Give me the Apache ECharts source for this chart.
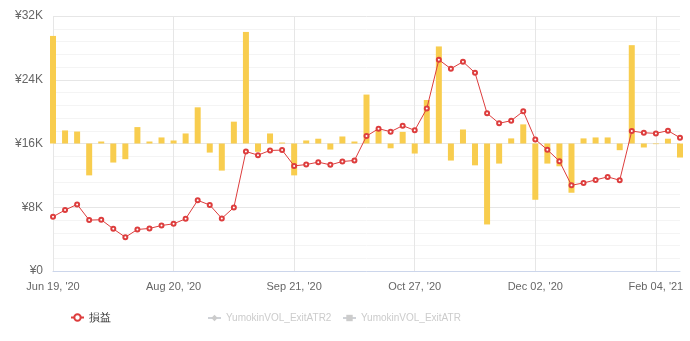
<!DOCTYPE html>
<html><head><meta charset="utf-8">
<script src="https://cdn.jsdelivr.net/npm/echarts@6/dist/echarts.min.js"></script>
<style>html,body{margin:0;padding:0;background:#fff}#c{width:690px;height:341px}</style>
</head><body><div id="c"></div>
<script>
// tick labels shown every 10th category
const tickLabels = ["Jun 19, '20", "Aug 20, '20", "Sep 21, '20", "Oct 27, '20", "Dec 02, '20", "Feb 04, '21"];
// cumulative profit (損益), yen
const profit = [6810, 7650, 8360, 6390, 6430, 5290, 4240, 5210, 5340, 5710,
  5920, 6550, 8870, 8280, 6600, 7980, 15000, 14540, 15130, 15170,
  13190, 13360, 13660, 13320, 13740, 13870, 16930, 17860, 17480, 18240,
  17650, 20380, 26510, 25380, 26260, 24870, 19790, 18530, 18870, 20040,
  16510, 15210, 13780, 10760, 11050, 11430, 11810, 11390, 17560, 17350,
  17270, 17610, 16720];
// per-period change (bars), yen
const change = [6750, 820, 750, -2000, 125, -1195, -985, 1030, 125, 380,
  190, 630, 2270, -570, -1700, 1370, 7000, -520, 630, 60,
  -2000, 190, 300, -380, 440, 125, 3070, 880, -300, 730,
  -630, 2730, 6090, -1070, 880, -1370, -5080, -1260, 320, 1200,
  -3530, -1260, -1430, -3090, 320, 380, 380, -420, 6170, -250,
  -40, 300, -880];
const categories = profit.map((_, i) => String(i));
const legendNames = ['損益', 'YumokinVOL_ExitATR2', 'YumokinVOL_ExitATR'];

const chart = echarts.init(document.getElementById('c'), null, {renderer: 'canvas'});
const narrow = "'Liberation Sans Narrow', 'Arial Narrow', 'Liberation Sans', Arial, sans-serif";
const legendBase = {
  top: 308, itemWidth: 13, itemHeight: 8, inactiveColor: '#cccccc',
  textStyle: {fontFamily: narrow, fontSize: 10, color: '#333'},
  selected: {'YumokinVOL_ExitATR2': false, 'YumokinVOL_ExitATR': false}
};
chart.setOption({
  animation: false,
  grid: {left: 53, right: 10, top: 16, bottom: 70},
  legend: [
    Object.assign({}, legendBase, {left: 65, top: 307, data: [legendNames[0]],
      textStyle: {fontFamily: narrow, fontSize: 11, color: '#333'}}),
    Object.assign({}, legendBase, {left: 202, data: [legendNames[1]]}),
    Object.assign({}, legendBase, {left: 337, data: [legendNames[2]]})
  ],
  xAxis: {
    type: 'category', data: categories, boundaryGap: false,
    axisLine: {lineStyle: {color: '#ccd6eb'}},
    axisTick: {show: false},
    axisLabel: {
      interval: 9, color: '#666', fontFamily: narrow, fontSize: 11, margin: 10,
      formatter: (v, i) => tickLabels[i / 10] || ''
    },
    splitLine: {show: true, interval: 9, lineStyle: {color: '#e6e6e6'}}
  },
  yAxis: [{
    type: 'value', min: 0, max: 32000, interval: 8000,
    axisLabel: {color: '#666', fontFamily: "'Liberation Sans', Arial, sans-serif", fontSize: 12, margin: 10,
      formatter: v => v === 0 ? '¥0' : '¥' + (v / 1000) + 'K'},
    axisLine: {show: false}, axisTick: {show: false},
    splitLine: {lineStyle: {color: '#e6e6e6'}},
    minorTick: {show: false, splitNumber: 5},
    minorSplitLine: {show: true, lineStyle: {color: '#f4f4f4'}}
  }, {
    type: 'value', min: -8000, max: 8000, show: false, splitLine: {show: false}
  }],
  series: [
    {
      name: 'Change', type: 'bar', yAxisIndex: 1, data: change, barWidth: 6,
      itemStyle: {color: '#f8cd4e'}, z: 1
    },
    {
      name: legendNames[0], type: 'line', data: profit, yAxisIndex: 0,
      symbol: 'emptyCircle', symbolSize: 4, showAllSymbol: true,
      lineStyle: {color: '#dd3d3d', width: 1},
      itemStyle: {color: '#dd3d3d', borderWidth: 1}, z: 3
    },
    {name: legendNames[1], type: 'line', data: [], symbol: 'diamond', symbolSize: 5, itemStyle: {color: '#999'}},
    {name: legendNames[2], type: 'line', data: [], symbol: 'rect', symbolSize: 5, itemStyle: {color: '#999'}}
  ]
});
</script></body></html>
